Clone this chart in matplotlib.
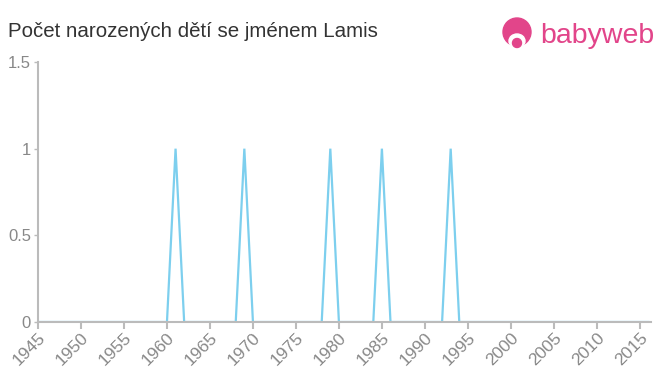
import numpy as np
import matplotlib.pyplot as plt
from matplotlib.patches import Circle, Ellipse

plt.rcParams['font.family'] = ['Liberation Sans', 'DejaVu Sans']

# roky a počty narozených
years = list(range(1945, 2017))
peak_years = [1961, 1969, 1979, 1985, 1993]
counts = [1 if y in peak_years else 0 for y in years]

x_ticks = list(range(1945, 2016, 5))
y_ticks = [0, 0.5, 1, 1.5]
y_labels = ['0', '0.5', '1', '1.5']

line_color = '#7dcfee'
axis_color = '#bbbbbb'
label_color = '#888888'
pink = '#e2458a'

fig = plt.figure(figsize=(6.6, 3.75), dpi=100)
ax = fig.add_axes([38 / 660, 1 - 322 / 375, 613 / 660, 260 / 375])

ax.plot(years, counts, color=line_color, linewidth=1.6, solid_joinstyle='miter')

ax.set_xlim(1945, 2016.3)
ax.set_ylim(0, 1.5)
ax.set_xticks(x_ticks)
ax.set_xticklabels([str(x) for x in x_ticks], rotation=45, ha='right',
                   rotation_mode='anchor', color=label_color, fontsize=12.5)
ax.set_yticks(y_ticks)
ax.set_yticklabels(y_labels, color=label_color, fontsize=12)
ax.tick_params(axis='x', length=5, width=1.5, color=axis_color, pad=1)
ax.tick_params(axis='y', length=3, width=1, color=axis_color, pad=2)

for side in ['top', 'right']:
    ax.spines[side].set_visible(False)
for side in ['left', 'bottom']:
    ax.spines[side].set_color(axis_color)
    ax.spines[side].set_linewidth(1.5)

fig.text(8 / 660, 1 - 37 / 375, 'Počet narozených dětí se jménem Lamis',
         fontsize=14.8, color='#333333', ha='left', va='baseline')

# logo babyweb
logo = fig.add_axes([498 / 660, 1 - 50 / 375, 40 / 660, 36 / 375])
logo.set_xlim(0, 40)
logo.set_ylim(0, 36)
logo.set_aspect('equal')
logo.axis('off')
logo.add_patch(Circle((19, 18), 14, color=pink))
logo.add_patch(Ellipse((19, 9), 16, 14, color='white'))
logo.add_patch(Circle((19, 7), 4.5, color=pink))
fig.text(540 / 660, 1 - 43 / 375, 'babyweb', fontsize=20.5, color=pink,
         ha='left', va='baseline')

fig.savefig('out.png', dpi=100)
